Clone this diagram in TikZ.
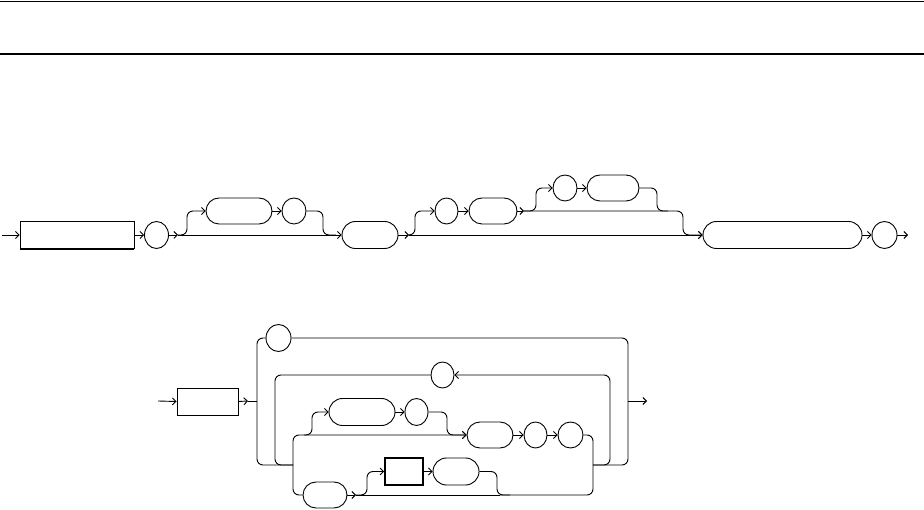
\documentclass[tikz,border=0pt]{standalone}
\usetikzlibrary{shapes.geometric,shapes.misc,arrows.meta}
\begin{document}
\begin{tikzpicture}[x=1pt,y=-1pt, line width=0.9pt,
 tip/.style={-{Straight Barb[length=3.5pt,width=7pt]}},
 termbox/.style={draw, rectangle, inner sep=0pt, minimum height=27pt},
 oval/.style={draw, rounded rectangle, inner sep=0pt, minimum height=26pt},
 circ/.style={draw, ellipse, inner sep=0pt, minimum width=24pt, minimum height=27pt},
 rc/.style={rounded corners=6pt},
 shade/.style={line width=1.8pt}]
\useasboundingbox (0,0) rectangle (924,510);
\draw[line width=1.2pt] (0,1.5) -- (924,1.5);
\draw[line width=1.2pt] (0,54) -- (924,54);

% ---------- row 1 ----------
\coordinate (in1) at (2,235);
\node[termbox, minimum width=114pt] (r1) at (77,235) {};
\node[circ] (c1) at (156.5,235) {};
\node[oval, minimum width=66pt] (s1) at (239,211) {};
\node[circ, minimum height=26pt] (c2) at (294,211) {};
\node[oval, minimum width=56pt, minimum height=27pt] (s2) at (370,235) {};
\node[circ, minimum width=23pt, minimum height=26pt] (c3) at (446.5,211) {};
\node[oval, minimum width=48pt] (s3) at (493,211) {};
\node[circ, minimum height=26pt] (c4) at (565,188) {};
\node[oval, minimum width=52pt] (s4) at (613,188) {};
\node[oval, minimum width=159pt, minimum height=27pt] (s5) at (782.5,235) {};
\node[circ, minimum width=25pt] (c5) at (884.5,235) {};
\coordinate (out1) at (908,235);
\draw[shade] (r1.south west) -- (r1.south east);

\coordinate (p1) at (178,235);
\coordinate (p2) at (409,235);
\coordinate (p3) at (524,211);

\draw[tip] (in1) -- (r1.west);
\draw[tip] (r1.east) -- (c1.west);
\draw[tip] (c1.east) -- (p1);
\draw[tip] (p1) -- (s2.west);
\draw[tip,rc] (p1) -- (187,235) -- (187,211) -- (s1.west);
\draw[tip] (s1.east) -- (c2.west);
\draw[rc] (c2.east) -- (323,211) -- (323,235) -- (336,235);
\draw[tip] (s2.east) -- (p2);
\draw[tip] (p2) -- (s5.west);
\draw[tip,rc] (p2) -- (415,235) -- (415,211) -- (c3.west);
\draw[tip] (c3.east) -- (s3.west);
\draw[tip] (s3.east) -- (p3);
\draw[tip,rc] (p3) -- (683,211) -- (683,235) -- (s5.west);
\draw[tip,rc] (p3) -- (536,211) -- (536,188) -- (c4.west);
\draw[tip] (c4.east) -- (s4.west);
\draw[rc] (s4.east) -- (657,188) -- (657,211) -- (668,211);
\draw[tip] (s5.east) -- (c5.west);
\draw[tip] (c5.east) -- (out1);

% ---------- row 2 ----------
\coordinate (in2) at (158,401);
\node[termbox, minimum width=61pt] (R) at (207.5,401.5) {};
\node[circ, minimum width=25pt] (a) at (278.5,338) {};
\node[circ, minimum width=23pt, minimum height=26pt] (b) at (442.5,375) {};
\node[oval, minimum width=66pt, minimum height=27pt] (d) at (362,412) {};
\node[circ, minimum width=23pt] (e) at (416.5,412) {};
\node[oval, minimum width=46pt] (f) at (490,435) {};
\node[circ, minimum width=23pt, minimum height=26pt] (g) at (535.5,435) {};
\node[circ, minimum width=25pt, minimum height=26pt] (h) at (570.5,435) {};
\node[oval, minimum width=44pt] (i) at (325,495) {};
\node[termbox, minimum width=38pt, line width=1.6pt] (j) at (404,471.5) {};
\node[oval, minimum width=46pt, minimum height=27pt] (k) at (456,471.5) {};
\coordinate (out2) at (647,401);
\draw[shade] (R.south west) -- (R.south east) -- (R.north east);

\coordinate (q1) at (248,401);
\coordinate (q) at (257,401);
\coordinate (jr) at (593,465);
\coordinate (jl) at (293,465);
\coordinate (t1) at (356,495);

\draw[tip] (in2) -- (R.west);
\draw[tip] (R.east) -- (q1);
\draw (q1) -- (q);
\draw[rc] (q) -- (257,338) -- (a.west);
\draw[rc] (a.east) -- (628,338) -- (628,465) -- (jr);
\draw[tip] (628,401) -- (out2);
\draw[rc] (q) -- (257,465) -- (jl);
\draw[rc,tip] (jr) -- (610,465) -- (610,375) -- (b.east);
\draw[rc] (b.west) -- (275,375) -- (275,465) -- (jl);
\draw[rc,tip] (jl) -- (293,435) -- (f.west);
\draw[rc,tip] (304,435) -- (312,435) -- (312,412) -- (d.west);
\draw[tip] (d.east) -- (e.west);
\draw[rc,tip] (e.east) -- (447,412) -- (447,435) -- (f.west);
\draw[tip] (f.east) -- (g.west);
\draw[tip] (g.east) -- (h.west);
\draw[rc] (h.east) -- (593,435) -- (593,495) -- (500,495);
\draw[rc] (jl) -- (293,495) -- (i.west);
\draw[tip] (i.east) -- (t1);
\draw (t1) -- (500,495);
\draw[rc,tip] (t1) -- (367,495) -- (367,471.5) -- (j.west);
\draw[tip] (j.east) -- (k.west);
\draw[rc] (k.east) -- (497,471.5) -- (497,495) -- (510,495);
\end{tikzpicture}
\end{document}
